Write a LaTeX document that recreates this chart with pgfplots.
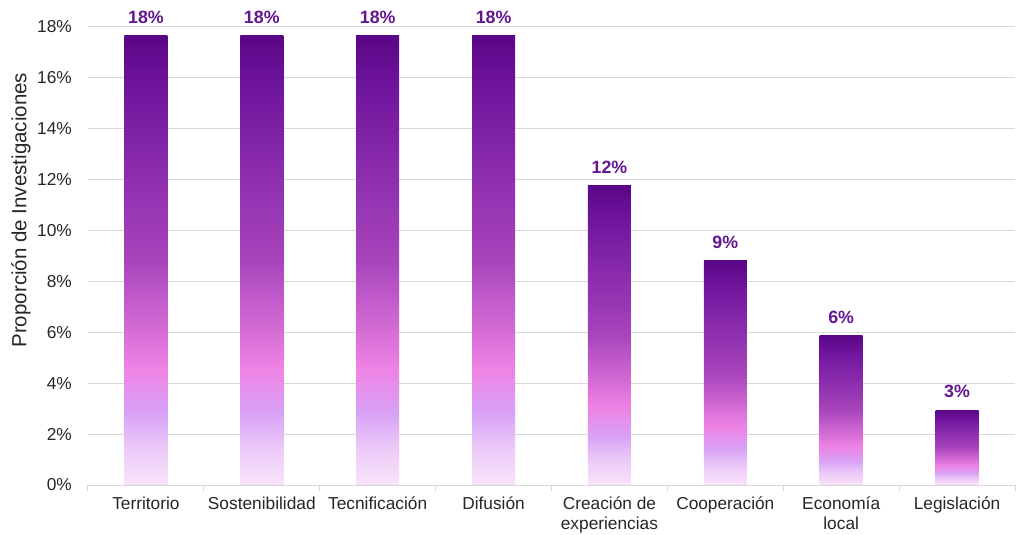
\documentclass[border=0pt]{standalone}
\usepackage{pgfplots}
\pgfplotsset{compat=1.18}
\usepackage{fontspec}
\setmainfont{Liberation Sans}
\definecolor{s0}{HTML}{F9E3F9}
\definecolor{s1}{HTML}{ECCBF8}
\definecolor{s2}{HTML}{D8A2F6}
\definecolor{s3}{HTML}{EE82E4}
\definecolor{s4}{HTML}{A845BC}
\definecolor{s5}{HTML}{7418A0}
\definecolor{s6}{HTML}{5A0688}
\definecolor{vlab}{HTML}{62168F}
\definecolor{txt}{HTML}{262626}
\definecolor{gridc}{HTML}{D9D9D9}
\pgfdeclareverticalshading{barshade}{100bp}{color(0bp)=(s0); color(25bp)=(s0); color(29bp)=(s1); color(33bp)=(s2); color(38bp)=(s3); color(50bp)=(s4); color(68bp)=(s5); color(75bp)=(s6); color(100bp)=(s6)}
\pgfplotsset{barst/.style={draw=none, shade, shading=barshade, bar shift=0pt}}
\begin{document}
\begin{tikzpicture}
\begin{axis}[
  scale only axis, width=927bp, height=458bp,
  font=\fontsize{17.3bp}{20bp}\selectfont,
  xmin=-0.5, xmax=7.5, ymin=0, ymax=18,
  axis x line*=bottom, axis y line*=left,
  y axis line style={draw=none},
  x axis line style={draw=gridc, line width=1bp},
  ymajorgrids, grid style={draw=gridc, line width=1bp},
  ytick={0,2,...,18},
  yticklabel={\pgfmathprintnumber{\tick}\%},
  /pgf/number format/assume math mode=true,
  ytick style={draw=none},
  yticklabel style={inner sep=0pt, xshift=-16bp, text=txt},
  xtick={0,...,7},
  xticklabels={Territorio,Sostenibilidad,Tecnificación,Difusión,Creación de\\experiencias,Cooperación,Economía\\local,Legislación},
  xticklabel style={align=center, inner sep=0pt, yshift=-12bp, text=txt},
  minor xtick={-0.5,0.5,...,7.5},
  tick align=outside,
  major tick length=0pt, minor tick length=6bp,
  xtick style={draw=gridc, line width=1bp},
  ylabel={Proporción de Investigaciones},
  ylabel style={at={(rel axis cs:-0.058,0.60)}, anchor=south, text=txt, font=\fontsize{20.5bp}{24bp}\selectfont},
  ybar, bar width=43bp,
  nodes near coords={\pgfmathprintnumber[fixed,precision=0]{\pgfplotspointmeta}\%},
  every node near coord/.append style={font=\fontsize{17.8bp}{20bp}\selectfont\bfseries, text=vlab, inner sep=0pt, anchor=south, yshift=12bp},
]
\addplot[barst] coordinates {(0,17.65)};
\addplot[barst] coordinates {(1,17.65)};
\addplot[barst] coordinates {(2,17.65)};
\addplot[barst] coordinates {(3,17.65)};
\addplot[barst] coordinates {(4,11.76)};
\addplot[barst] coordinates {(5,8.82)};
\addplot[barst] coordinates {(6,5.88)};
\addplot[barst] coordinates {(7,2.94)};
\end{axis}
\path (current axis.south west) ++(-88bp,-50bp) rectangle ++(1017bp,535bp);
\end{tikzpicture}
\end{document}
